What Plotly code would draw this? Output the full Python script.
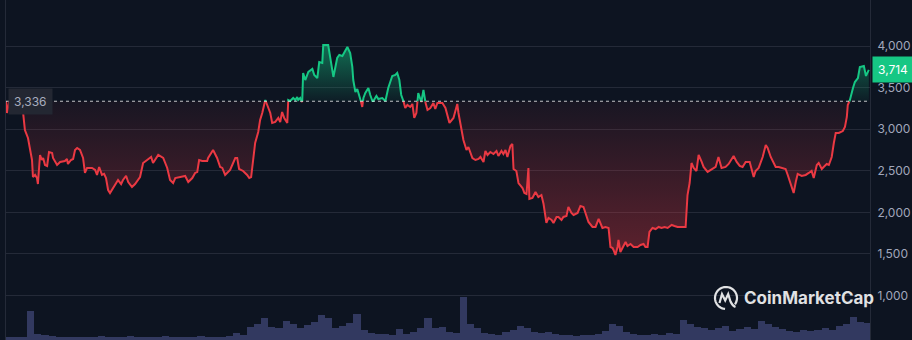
import math
import plotly.graph_objects as go

# ---------------- data ----------------
day = [0, 0.4, 1.3, 2.5, 4.2, 5.9, 7.2, 8.0, 9.3, 11.0, 11.4, 12.3, 13.1, 13.5, 14.4, 15.2, 15.7, 16.5, 17.4, 18.2,
       19.5, 19.9, 21.6, 22.9, 24.9, 25.8, 26.2, 27.5, 28.4, 29.2, 30.1, 31.3, 32.6, 33.4, 34.3, 36.4, 37.7, 38.5, 39.4, 40.6,
       41.5, 42.3, 43.2, 44.0, 45.3, 47.4, 48.7, 49.5, 50.8, 51.7, 53.3, 54.6, 56.7, 58.0, 59.7, 61.4, 62.2, 64.4, 66.5, 68.2,
       69.4, 70.7, 71.6, 73.7, 74.9, 75.8, 77.1, 78.8, 80.0, 80.9, 81.7, 83.0, 85.1, 85.5, 87.6, 89.3, 90.6, 91.5, 92.7, 94.8,
       97.0, 97.8, 98.6, 100.3, 102.0, 102.9, 103.7, 104.6, 105.4, 106.7, 107.5, 108.4, 109.7, 110.9, 111.8, 112.6, 113.9, 115.2, 116.0, 116.8,
       117.7, 119.0, 119.4, 120.2, 121.5, 122.4, 123.2, 123.6, 124.5, 125.3, 125.7, 126.6, 127.9, 129.6, 130.4, 131.7, 132.5, 133.8, 134.2, 136.3,
       137.2, 138.0, 138.5, 140.1, 141.0, 142.3, 143.1, 144.4, 145.6, 146.5, 146.9, 147.8, 148.6, 149.5, 150.3, 150.7, 151.2, 152.0, 153.3, 154.1,
       155.0, 155.4, 156.7, 157.5, 159.2, 160.5, 161.7, 163.4, 164.7, 165.5, 166.4, 167.2, 168.1, 168.9, 169.8, 171.0, 171.9, 172.7, 173.6, 174.4,
       175.7, 176.6, 177.4, 178.3, 179.5, 180.8, 181.6, 182.5, 184.6, 185.9, 187.6, 189.3, 190.9, 191.4, 193.1, 193.5, 194.8, 195.6, 197.3, 198.6,
       199.9, 200.7, 202.0, 202.8, 203.7, 204.9, 206.2, 207.5, 208.3, 209.6, 210.4, 211.3, 212.1, 213.4, 214.2, 214.7, 215.9, 216.8, 218.5, 219.3,
       220.2, 221.0, 221.4, 222.7, 224.0, 225.2, 226.5, 227.4, 228.6, 229.5, 230.8, 231.6, 232.9, 233.7, 235.0, 235.8, 237.1, 237.9, 239.2, 240.1,
       241.8, 243.0, 244.3, 245.1, 246.4, 248.1, 249.4, 250.7, 252.3, 253.6, 254.9, 255.7, 256.6, 257.0, 257.8, 258.7, 259.1, 259.9, 261.2, 262.1,
       262.9, 264.2, 265.5, 267.2, 268.4, 269.7, 270.5, 271.4, 272.2, 273.5, 274.8, 276.1, 277.3, 278.6, 279.9, 281.6, 282.8, 284.1, 285.8, 287.5,
       288.3, 289.2, 290.0, 290.9, 292.1, 293.0, 294.3, 295.1, 296.8, 298.1, 299.3, 300.2, 301.4, 302.7, 304.4, 305.7, 307.8, 309.1, 310.4, 311.6,
       312.9, 314.6, 316.3, 317.1, 318.4, 320.1, 321.4, 322.2, 323.5, 324.8, 325.6, 326.9, 328.6, 329.8, 330.7, 331.9, 333.2, 334.1, 334.9, 336.6,
       338.3, 339.6, 340.8, 341.7, 343.0, 343.8, 345.1, 345.9, 347.2, 348.1, 349.3, 350.2, 351.0, 352.3, 354.0, 354.9, 355.7, 356.1, 357.0, 358.3,
       359.1, 360.4, 361.2, 362.9, 363.8, 365.0]

price = [3336, 3195, 3327, 3387, 3351, 3375, 3207, 2990, 2894, 2630, 2425, 2450, 2413, 2341, 2690, 2630, 2654, 2570, 2558, 2726,
         2714, 2654, 2570, 2606, 2618, 2642, 2582, 2630, 2642, 2750, 2774, 2750, 2654, 2474, 2534, 2534, 2510, 2450, 2546, 2450,
         2462, 2413, 2269, 2233, 2293, 2389, 2341, 2389, 2438, 2365, 2305, 2341, 2425, 2594, 2630, 2666, 2594, 2690, 2654, 2534,
         2389, 2353, 2413, 2425, 2425, 2438, 2365, 2413, 2474, 2486, 2630, 2618, 2618, 2654, 2750, 2654, 2546, 2534, 2450, 2510,
         2654, 2654, 2522, 2498, 2450, 2413, 2425, 2666, 2834, 2966, 3111, 3195, 3351, 3255, 3195, 3075, 3087, 3135, 3087, 3207,
         3135, 3075, 3351, 3339, 3375, 3351, 3387, 3351, 3375, 3327, 3676, 3591, 3688, 3724, 3652, 3615, 3808, 3796, 4012, 4012,
         3868, 3748, 3628, 3856, 3892, 3880, 3916, 3988, 3916, 3748, 3591, 3447, 3483, 3411, 3315, 3267, 3375, 3435, 3495, 3411,
         3339, 3339, 3399, 3363, 3375, 3339, 3495, 3640, 3652, 3676, 3591, 3411, 3339, 3255, 3291, 3267, 3303, 3135, 3195, 3435,
         3327, 3471, 3327, 3231, 3255, 3315, 3243, 3315, 3315, 3255, 3075, 3135, 3303, 3195, 2894, 2870, 2750, 2786, 2654, 2630,
         2642, 2666, 2606, 2738, 2690, 2726, 2702, 2738, 2678, 2738, 2702, 2750, 2666, 2798, 2822, 2522, 2498, 2353, 2293, 2233,
         2221, 2534, 2161, 2173, 2245, 2185, 2209, 2101, 1873, 1933, 1909, 1873, 1945, 1945, 1909, 1945, 1957, 2065, 1993, 1969,
         1993, 2077, 2065, 1993, 1885, 1825, 1825, 1921, 1813, 1825, 1813, 1584, 1572, 1548, 1488, 1584, 1668, 1524, 1596, 1644,
         1596, 1620, 1584, 1584, 1608, 1620, 1584, 1584, 1765, 1813, 1800, 1825, 1813, 1825, 1813, 1849, 1837, 1825, 1825, 1825,
         2209, 2353, 2594, 2534, 2498, 2690, 2606, 2546, 2486, 2510, 2534, 2546, 2666, 2534, 2546, 2582, 2678, 2606, 2558, 2546,
         2606, 2606, 2425, 2498, 2534, 2666, 2810, 2774, 2666, 2594, 2546, 2546, 2534, 2522, 2450, 2353, 2233, 2365, 2462, 2438,
         2450, 2474, 2498, 2413, 2570, 2594, 2522, 2546, 2582, 2570, 2666, 2834, 2954, 2954, 2978, 3027, 3147, 3291, 3351, 3495,
         3567, 3615, 3748, 3760, 3640, 3714]

# volume, one bar per 3 days (arbitrary units)
volume = [6, 6, 6, 58, 12, 10, 8, 6, 6, 6, 6, 6,
          6, 8, 6, 6, 6, 8, 6, 6, 6, 6, 8, 6,
          6, 6, 6, 8, 6, 6, 6, 8, 14, 10, 26, 32,
          44, 26, 24, 38, 32, 24, 30, 36, 50, 44, 24, 28,
          34, 52, 20, 14, 12, 12, 10, 22, 12, 16, 24, 44,
          24, 26, 16, 14, 86, 32, 24, 14, 12, 10, 16, 20,
          28, 24, 16, 14, 16, 12, 10, 10, 8, 10, 10, 12,
          18, 32, 28, 16, 12, 10, 10, 12, 10, 14, 12, 40,
          32, 26, 24, 20, 24, 28, 18, 22, 26, 22, 38, 32,
          26, 22, 18, 16, 20, 18, 20, 24, 20, 28, 32, 46,
          36, 34]

BASE = 3336
LAST = 3714
tick_vals = [1000, 1500, 2000, 2500, 3000, 3500, 4000]
tick_text = ["1,000", "1,500", "2,000", "2,500", "3,000", "3,500", "4,000"]

# ---------------- styling ----------------
BG = "#0d1421"
GRID = "#242a38"
RED = "#ea3943"
GREEN = "#16c784"
FONT = "Inter"

# insert baseline crossing points so the two colours join
xs, ys = [day[0]], [price[0]]
for i in range(1, len(day)):
    x0, y0, x1, y1 = day[i - 1], price[i - 1], day[i], price[i]
    if (y0 - BASE) * (y1 - BASE) < 0:
        t = (BASE - y0) / (y1 - y0)
        xs.append(x0 + t * (x1 - x0))
        ys.append(BASE)
    xs.append(x1)
    ys.append(y1)

up_line = [y if y >= BASE else None for y in ys]
dn_line = [y if y <= BASE else None for y in ys]
up_fill = [max(y, BASE) for y in ys]
dn_fill = [min(y, BASE) for y in ys]
base_line = [BASE] * len(xs)

vol_day = [3 * i + 1.5 for i in range(len(volume))]

fig = go.Figure()

fig.add_trace(go.Bar(x=vol_day, y=volume, yaxis="y2", marker=dict(color="#323960", line=dict(width=0)),
                     width=3, hoverinfo="skip", showlegend=False))

fig.add_trace(go.Scatter(x=xs, y=base_line, mode="lines", line=dict(width=0), hoverinfo="skip", showlegend=False))
fig.add_trace(go.Scatter(x=xs, y=up_fill, mode="lines", line=dict(width=0), fill="tonexty",
                         fillgradient=dict(type="vertical", start=BASE, stop=4012,
                                           colorscale=[[0, "rgba(22,199,132,0.05)"], [1, "rgba(22,199,132,0.5)"]]),
                         hoverinfo="skip", showlegend=False))
fig.add_trace(go.Scatter(x=xs, y=base_line, mode="lines", line=dict(width=0), hoverinfo="skip", showlegend=False))
fig.add_trace(go.Scatter(x=xs, y=dn_fill, mode="lines", line=dict(width=0), fill="tonexty",
                         fillgradient=dict(type="vertical", start=1488, stop=BASE,
                                           colorscale=[[0, "rgba(234,57,67,0.36)"], [1, "rgba(234,57,67,0.05)"]]),
                         hoverinfo="skip", showlegend=False))

fig.add_trace(go.Scatter(x=xs, y=dn_line, mode="lines", line=dict(color=RED, width=2), connectgaps=False,
                         hoverinfo="skip", showlegend=False))
fig.add_trace(go.Scatter(x=xs, y=up_line, mode="lines", line=dict(color=GREEN, width=2), connectgaps=False,
                         hoverinfo="skip", showlegend=False))

# dotted baseline
fig.add_shape(type="line", xref="paper", x0=0, x1=1, yref="y", y0=BASE, y1=BASE,
              line=dict(color="rgba(255,255,255,0.75)", width=1, dash="dot"), layer="above")

# baseline label
fig.add_annotation(xref="paper", x=0, xanchor="left", xshift=2, yref="y", y=BASE, yanchor="middle",
                   text="3,336", showarrow=False, bgcolor="#232732", borderpad=5,
                   font=dict(family=FONT, size=12, color="#a7adbf"))
# last price label
fig.add_annotation(xref="paper", x=1, xanchor="left", xshift=2, yref="y", y=LAST, yanchor="middle",
                   text="3,714", showarrow=False, bgcolor=GREEN, borderpad=5,
                   font=dict(family=FONT, size=12, color="#ffffff"))

# CoinMarketCap watermark
ring = []
for k in range(0, 41):
    a = math.radians(-35 + k * (300 / 40))
    ring.append((11 * math.cos(a), 11 * math.sin(a)))
path = "M " + " L ".join(f"{px:.2f},{py:.2f}" for px, py in ring)
path += " M -6.5,-5 L -4,4 L -0.8,-2.5 L 2.2,4 L 4.5,-3.5 Q 6.5,-8 9.5,-9"
fig.add_shape(type="path", path=path, xref="paper", yref="paper", xsizemode="pixel", ysizemode="pixel",
              xanchor=(726 - 6) / 864, yanchor=(340 - 298) / 340,
              line=dict(color="rgba(255,255,255,0.88)", width=2.2), layer="above")
fig.add_annotation(xref="paper", x=(742 - 6) / 864, xanchor="left", yref="paper", y=(340 - 298) / 340,
                   yanchor="middle", text="<b>CoinMarketCap</b>", showarrow=False,
                   font=dict(family=FONT, size=17, color="rgba(255,255,255,0.88)"))

fig.update_layout(
    width=912, height=340,
    margin=dict(l=6, r=42, t=0, b=0),
    paper_bgcolor=BG, plot_bgcolor=BG,
    showlegend=False, bargap=0,
    xaxis=dict(range=[0, 365.5], visible=False, fixedrange=True),
    yaxis=dict(range=[466, 4553], side="right", tickvals=tick_vals, ticktext=tick_text,
               showgrid=True, gridcolor=GRID, gridwidth=1, zeroline=False,
               showline=True, linecolor=GRID, linewidth=1, mirror=True, ticks="",
               ticklabelstandoff=4,
               tickfont=dict(family=FONT, size=12, color="#a1a7bb")),
    yaxis2=dict(range=[0, 680], overlaying="y", visible=False, fixedrange=True),
)

fig.write_html("out.html")
